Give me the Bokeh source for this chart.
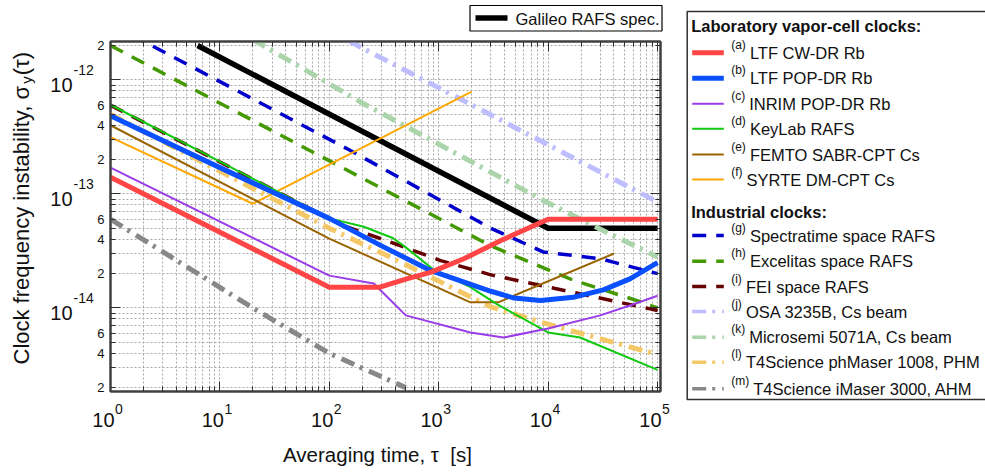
from math import pi, log10
from bokeh.plotting import figure
from bokeh.models import Range1d, FixedTicker, LogAxis, CustomJSTickFormatter
from bokeh.layouts import row, column
from bokeh.embed import file_html
from bokeh.resources import INLINE
from bokeh.core.properties import value

FONT = "Liberation Sans"
TXT = "#111111"

# ---------------- data ----------------
galileo_tau = [6.25, 1e4, 1e5]
galileo_sig = [2.0e-12, 5.0e-14, 5.0e-14]

a_tau = [1, 100, 290, 510, 840, 1700, 3700, 1e4, 1e5]
a_sig = [1.4e-13, 1.52e-14, 1.52e-14, 1.8e-14, 2.05e-14, 2.7e-14, 3.9e-14, 6.0e-14, 6.0e-14]

b_tau = [1, 10, 100, 300, 850, 3000, 4900, 8500, 17000, 32000, 56000, 1e5]
b_sig = [4.85e-13, 1.7e-13, 6.1e-14, 3.5e-14, 2.12e-14, 1.4e-14, 1.22e-14, 1.16e-14,
         1.24e-14, 1.44e-14, 1.8e-14, 2.5e-14]

c_tau = [1, 100, 255, 500, 1950, 3900, 1e4, 30000, 56000, 1e5]
c_sig = [1.7e-13, 1.92e-14, 1.64e-14, 8.6e-15, 6.1e-15, 5.5e-15, 6.6e-15, 8.6e-15, 1.05e-14, 1.28e-14]

d_tau = [1, 100, 207, 380, 480, 880, 1950, 3400, 1e4, 19600, 1e5]
d_sig = [6.05e-13, 6.1e-14, 5.15e-14, 4.1e-14, 3.5e-14, 2.2e-14, 1.52e-14, 1.08e-14, 6.1e-15, 5.5e-15, 2.86e-15]

e_tau = [1, 100, 1950, 3500, 40000]
e_sig = [4.0e-13, 4.05e-14, 1.12e-14, 1.12e-14, 3.0e-14]

f_tau = [1, 20, 2000]
f_sig = [3.15e-13, 8.2e-14, 7.9e-13]

g_tau = [1, 150, 3000, 9000, 30000, 1e5]
g_sig = [3.1e-12, 2.45e-13, 5.0e-14, 3.1e-14, 2.7e-14, 2.0e-14]

h_tau = [1, 3000, 17000, 65000, 1e5]
h_sig = [2.0e-12, 3.5e-14, 1.75e-14, 1.16e-14, 1.0e-14]

i_tau = [1, 126, 417, 1040, 3000, 17000, 1e5]
i_sig = [6.0e-13, 5.4e-14, 3.6e-14, 2.6e-14, 1.95e-14, 1.37e-14, 9.5e-15]

j_tau = [150, 7940, 1e5]
j_sig = [2.2e-12, 3.03e-13, 8.5e-14]

k_tau = [20, 193, 9140, 30100, 1e5]
k_sig = [2.26e-12, 6.4e-13, 8.7e-14, 4.9e-14, 2.8e-14]

l_tau = [1, 100, 420, 3000, 1e4, 1e5]
l_sig = [5.0e-13, 5.0e-14, 2.6e-14, 1.02e-14, 7.2e-15, 3.9e-15]

m_tau = [1, 20, 100, 500]
m_sig = [6.0e-14, 1.0e-14, 4.0e-15, 2.0e-15]

# tick labels
x_decades = [1, 10, 100, 1e3, 1e4, 1e5]
x_exponents = ["0", "1", "2", "3", "4", "5"]
y_decades = [1e-12, 1e-13, 1e-14]
y_exponents = ["-12", "-13", "-14"]
y_mant_vals = [2e-12, 6e-13, 4e-13, 2e-13, 6e-14, 4e-14, 2e-14, 6e-15, 4e-15, 2e-15]
y_mant_text = ["2", "6", "4", "2", "6", "4", "2", "6", "4", "2"]

# legend content
lab_keys = ["a", "b", "c", "d", "e", "f"]
lab_names = ["LTF CW-DR Rb", "LTF POP-DR Rb", "INRIM POP-DR Rb", "KeyLab RAFS",
             "FEMTO SABR-CPT Cs", "SYRTE DM-CPT Cs"]
ind_keys = ["g", "h", "i", "j", "k", "l", "m"]
ind_names = ["Spectratime space RAFS", "Excelitas space RAFS", "FEI space RAFS",
             "OSA 3235B, Cs beam", "Microsemi 5071A, Cs beam",
             "T4Science phMaser 1008, PHM", "T4Science iMaser 3000, AHM"]

series = {"a": (a_tau, a_sig), "b": (b_tau, b_sig), "c": (c_tau, c_sig), "d": (d_tau, d_sig),
          "e": (e_tau, e_sig), "f": (f_tau, f_sig), "g": (g_tau, g_sig), "h": (h_tau, h_sig),
          "i": (i_tau, i_sig), "j": (j_tau, j_sig), "k": (k_tau, k_sig), "l": (l_tau, l_sig),
          "m": (m_tau, m_sig)}

DASH = "14 10"
DASHDOT = "14 6 3 7"
styles = {
    "a": ("#FF4545", 5, "solid"),
    "b": ("#0A50FF", 5, "solid"),
    "c": ("#9A3DE8", 2, "solid"),
    "d": ("#10C810", 2, "solid"),
    "e": ("#9A6400", 2, "solid"),
    "f": ("#FFA800", 2, "solid"),
    "g": ("#0000CC", 3.5, DASH),
    "h": ("#449900", 3.5, DASH),
    "i": ("#660000", 3.5, DASH),
    "j": ("#BDBDFF", 5, DASHDOT),
    "k": ("#ABD4AB", 5, DASHDOT),
    "l": ("#F5C867", 5, DASHDOT),
    "m": ("#888888", 5, DASHDOT),
}

# ---------------- page geometry ----------------
XMIN, XMAX = 1.0, 1.065e5
YMIN, YMAX = 1.85e-15, 2.17e-12
W_MAIN, H = 676, 476
FX0, FW = 110, 550          # plot frame left / width
FY0, FH = 41, 350           # plot frame top / height
LW, TH, PB = 105, 36, 5     # left panel width, top panel height, bottom border of plot
PPD_X = FW / log10(XMAX / XMIN)
PPD_Y = FH / log10(YMAX / YMIN)
P_W = W_MAIN - LW
P_H = (FY0 - TH) + FH + PB
L_H = TH + P_H
B_H = H - L_H


def no_align(fig):
    try:
        fig.frame_align = False
    except Exception:
        pass


def blank(fig):
    fig.outline_line_color = None
    fig.background_fill_color = "white"
    fig.border_fill_color = "white"
    fig.xgrid.visible = False
    fig.ygrid.visible = False
    no_align(fig)


def txt(fig, x, y, text, size, align="left", **kw):
    fig.text(x=x, y=y, text=text, text_align=align, text_baseline="middle",
             text_font=value(FONT), text_font_size=value(size), text_color=TXT, **kw)


# ---------------- main plot ----------------
p = figure(width=P_W, height=P_H, x_axis_type="log", y_axis_type="log",
           x_range=Range1d(XMIN, XMAX), y_range=Range1d(YMIN, YMAX),
           output_backend="svg", toolbar_location=None,
           min_border_left=FX0 - LW, min_border_right=W_MAIN - FX0 - FW,
           min_border_top=FY0 - TH, min_border_bottom=PB)
no_align(p)
p.background_fill_color = "white"
p.border_fill_color = "white"
p.outline_line_color = "#404040"
p.outline_line_width = 2

x_minor = [m * 10 ** k for k in range(0, 5) for m in range(2, 10)]
y_minor = [m * 10.0 ** k for k in range(-15, -11) for m in range(2, 10)]
xt = FixedTicker(ticks=x_decades, minor_ticks=x_minor)
yt = FixedTicker(ticks=[1e-15] + y_decades, minor_ticks=y_minor)
empty_fmt = CustomJSTickFormatter(code="return ''")


def style_axis(ax):
    ax.formatter = empty_fmt
    ax.major_tick_in = 10
    ax.major_tick_out = 0
    ax.minor_tick_in = 5
    ax.minor_tick_out = 0
    ax.major_label_text_font_size = "2px"
    ax.major_label_text_alpha = 0
    ax.major_label_standoff = 0
    ax.axis_line_color = "#404040"
    ax.axis_line_width = 2
    ax.major_tick_line_color = "#303030"
    ax.minor_tick_line_color = "#303030"


p.xaxis[0].ticker = xt
p.yaxis[0].ticker = yt
style_axis(p.xaxis[0])
style_axis(p.yaxis[0])
ax_top = LogAxis(ticker=xt)
ax_right = LogAxis(ticker=yt)
style_axis(ax_top)
style_axis(ax_right)
p.add_layout(ax_top, "above")
p.add_layout(ax_right, "right")

for g, t in ((p.xgrid[0], xt), (p.ygrid[0], yt)):
    g.ticker = t
    g.grid_line_color = "#a8a8a8"
    g.grid_line_dash = "2 2"
    g.minor_grid_line_color = "#a8a8a8"
    g.minor_grid_line_dash = "2 2"

p.line(galileo_tau, galileo_sig, line_color="black", line_width=5.5)
draw_order = ["g", "h", "i", "j", "k", "l", "m", "f", "e", "d", "c", "b", "a"]
for key in draw_order:
    col, lw, dash = styles[key]
    tx, sy = series[key]
    p.line(tx, sy, line_color=col, line_width=lw, line_dash=dash, line_join="round")

# ---------------- left panel: y tick labels and y title ----------------
L = figure(width=LW, height=L_H, x_range=Range1d(0, LW), y_axis_type="log",
           y_range=Range1d(YMIN / 10 ** ((L_H - FY0 - FH) / PPD_Y), YMAX * 10 ** (FY0 / PPD_Y)),
           output_backend="svg", toolbar_location=None, min_border=0,
           x_axis_location=None, y_axis_location=None)
blank(L)
nd = len(y_decades)
txt(L, [72] * nd, y_decades, ["10"] * nd, "20px", "right", y_offset=5)
txt(L, [73] * nd, y_decades, y_exponents, "14px", "left", y_offset=-9.5)
txt(L, [104] * len(y_mant_vals), y_mant_vals, y_mant_text, "13px", "right")


def page_y_to_L(py):
    return YMAX * 10 ** ((FY0 - py) / PPD_Y)


YT_FS = 22
TITLE_START = 364          # page y where the y title begins (bottom end)
W_TITLE_MAIN = 12.715 * YT_FS
txt(L, [21], [page_y_to_L(TITLE_START)], ["Clock frequency instability, \u03c3"],
    f"{YT_FS}px", "left", angle=pi / 2)
txt(L, [26], [page_y_to_L(TITLE_START - W_TITLE_MAIN - 1)], ["y"], "15px", "left",
    angle=pi / 2)
txt(L, [21], [page_y_to_L(TITLE_START - W_TITLE_MAIN - 9.5)], ["(\u03c4)"],
    f"{YT_FS}px", "left", angle=pi / 2)

# ---------------- bottom panel: x tick labels and x title ----------------
B = figure(width=W_MAIN, height=B_H, x_axis_type="log",
           x_range=Range1d(XMIN / 10 ** (FX0 / PPD_X), XMIN * 10 ** ((W_MAIN - FX0) / PPD_X)),
           y_range=Range1d(B_H, 0), output_backend="svg", toolbar_location=None,
           min_border=0, x_axis_location=None, y_axis_location=None)
blank(B)
nx = len(x_decades)
txt(B, x_decades, [419 - L_H] * nx, ["10"] * nx, "20px", "right", x_offset=4)
txt(B, x_decades, [408 - L_H] * nx, x_exponents, "14px", "left", x_offset=4.5)
txt(B, [XMIN * 10 ** ((377 - FX0) / PPD_X)], [454 - L_H],
    ["Averaging time, \u03c4\u00a0 [s]"], "20.5px", "center")

# ---------------- top panel: Galileo spec legend ----------------
T = figure(width=P_W, height=TH, x_range=Range1d(LW, W_MAIN), y_range=Range1d(TH, 0),
           output_backend="svg", toolbar_location=None, min_border=0,
           x_axis_location=None, y_axis_location=None)
blank(T)
T.quad(left=[469.5], right=[661.5], top=[5], bottom=[30.5], fill_color="white",
       line_color="black", line_width=1.2)
T.line([475, 507], [17.5, 17.5], line_color="black", line_width=5.5)
txt(T, [515], [18.5], ["Galileo RAFS spec."], "16.5px", "left")

# ---------------- right panel: legend ----------------
W2 = 985 - W_MAIN
q = figure(width=W2, height=H, x_range=Range1d(W_MAIN, 985), y_range=Range1d(H, 0),
           output_backend="svg", toolbar_location=None, min_border=0,
           x_axis_location=None, y_axis_location=None)
blank(q)
q.quad(left=[686.7], right=[1000], top=[11], bottom=[399], fill_color=None,
       line_color="#303030", line_width=1.5)

sup_w = {"a": 1.222, "b": 1.222, "c": 1.166, "d": 1.222, "e": 1.222, "f": 0.944,
         "g": 1.222, "h": 1.222, "i": 0.888, "j": 0.888, "k": 1.166, "l": 0.888, "m": 1.499}
SUP_FS = 12
LAB_FS = 16.5
lab_y = [52.3, 77.7, 103.3, 128.3, 154, 179]
ind_y = [235, 260.7, 286, 311, 336.7, 361.7, 388.3]

txt(q, [690.7, 690.7], [25, 211], ["Laboratory vapor-cell clocks:", "Industrial clocks:"],
    f"{LAB_FS}px", "left", text_font_style=value("bold"))

sx, sy_, st, mx, my, mt = [], [], [], [], [], []
for keys, names, ys in ((lab_keys, lab_names, lab_y), (ind_keys, ind_names, ind_y)):
    for key, name, yc in zip(keys, names, ys):
        col, lw, dash = styles[key]
        lw_leg = 3.5 if dash == DASHDOT else lw
        q.line([691.7, 723.3], [yc, yc], line_color=col, line_width=lw_leg, line_dash=dash)
        sx.append(730.7)
        sy_.append(yc - 8)
        st.append(f"({key})")
        mx.append(round(730.7 + sup_w[key] * SUP_FS + 4, 1))
        my.append(yc)
        mt.append(name)

txt(q, sx, sy_, st, f"{SUP_FS}px", "left")
txt(q, mx, my, mt, f"{LAB_FS}px", "left")

layout = row(column(row(L, column(T, p, spacing=0), spacing=0), B, spacing=0), q, spacing=0)
open("out.html", "w").write(file_html(layout, INLINE))
